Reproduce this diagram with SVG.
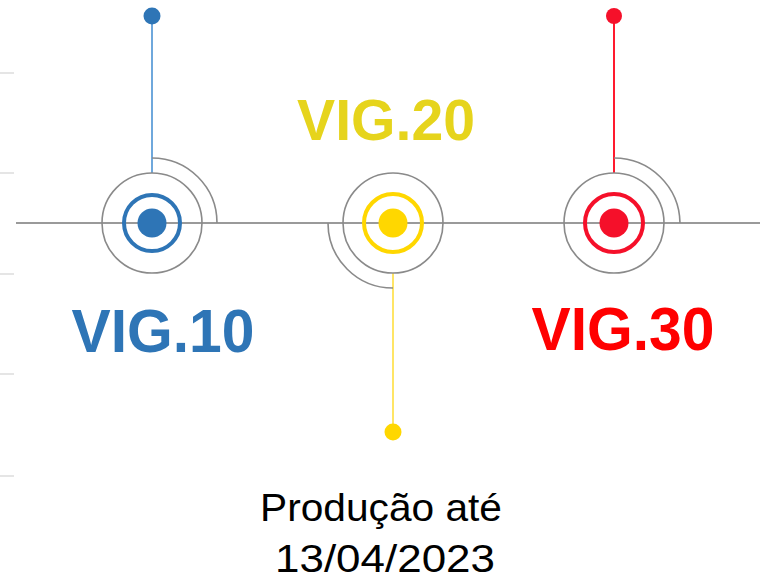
<svg xmlns="http://www.w3.org/2000/svg" width="760" height="584" viewBox="0 0 760 584">
<style>
.tick{stroke:#dcdcdc;stroke-width:1.5;fill:none}
.axis{stroke:#9a9a9a;stroke-width:2;fill:none}
.gray{stroke:#8a8a8a;stroke-width:1.6;fill:none}
.ring{stroke-width:4;fill:none}
.big{font-family:"Liberation Sans",Arial,sans-serif;font-weight:bold;text-anchor:middle}
.cap{font-family:"Liberation Sans",Arial,sans-serif;font-size:39px;fill:#000;text-anchor:middle}
</style>
<rect width="760" height="584" fill="#fff"/>
<g id="ticks">
<line class="tick" x1="0" y1="73" x2="14" y2="73"/>
<line class="tick" x1="0" y1="173" x2="14" y2="173"/>
<line class="tick" x1="0" y1="274" x2="14" y2="274"/>
<line class="tick" x1="0" y1="374" x2="14" y2="374"/>
<line class="tick" x1="0" y1="476" x2="14" y2="476"/>
</g>
<g id="connectors">
<line class="axis" x1="16" y1="223" x2="760" y2="223"/>
<line x1="152" y1="17" x2="152" y2="173" stroke="#6fa8dc" stroke-width="2"/>
<line x1="393" y1="273" x2="393" y2="432" stroke="#ffe566" stroke-width="2"/>
<line x1="614" y1="17" x2="614" y2="173" stroke="#ff1a2e" stroke-width="2"/>
</g>
<g id="vig10">
<circle class="gray" cx="152" cy="223" r="50"/>
<path class="gray" d="M152 158 A65 65 0 0 1 217 223"/>
<circle class="ring" cx="152" cy="223" r="28" stroke="#2e75b6"/>
<circle cx="152" cy="223" r="14.5" fill="#2e75b6"/>
<circle cx="152" cy="16" r="8.5" fill="#2e75b6"/>
<text class="big" x="163" y="352" font-size="61" fill="#2e75b6" textLength="183" lengthAdjust="spacingAndGlyphs">VIG.10</text>
</g>
<g id="vig20">
<circle class="gray" cx="393" cy="223" r="50"/>
<path class="gray" d="M328 223 A65 65 0 0 0 393 288"/>
<circle class="ring" cx="393" cy="223" r="29" stroke="#ffd700"/>
<circle cx="393" cy="223" r="14.5" fill="#ffd700"/>
<circle cx="393" cy="432" r="8.5" fill="#ffd700"/>
<text class="big" x="386" y="140" font-size="57" fill="#e6d41c" textLength="178" lengthAdjust="spacingAndGlyphs">VIG.20</text>
</g>
<g id="vig30">
<circle class="gray" cx="614" cy="223" r="50"/>
<path class="gray" d="M614 158 A66 66 0 0 1 680 223"/>
<circle class="ring" cx="614" cy="223" r="29" stroke="#f5102a"/>
<circle cx="614" cy="223" r="14.5" fill="#f5102a"/>
<circle cx="614" cy="16" r="8" fill="#f5102a"/>
<text class="big" x="623" y="350" font-size="61" fill="#ff0000" textLength="183" lengthAdjust="spacingAndGlyphs">VIG.30</text>
</g>
<g id="caption">
<text class="cap" x="381" y="521" textLength="242" lengthAdjust="spacingAndGlyphs">Produção até</text>
<text class="cap" x="385" y="572" textLength="220" lengthAdjust="spacingAndGlyphs">13/04/2023</text>
</g>
</svg>
